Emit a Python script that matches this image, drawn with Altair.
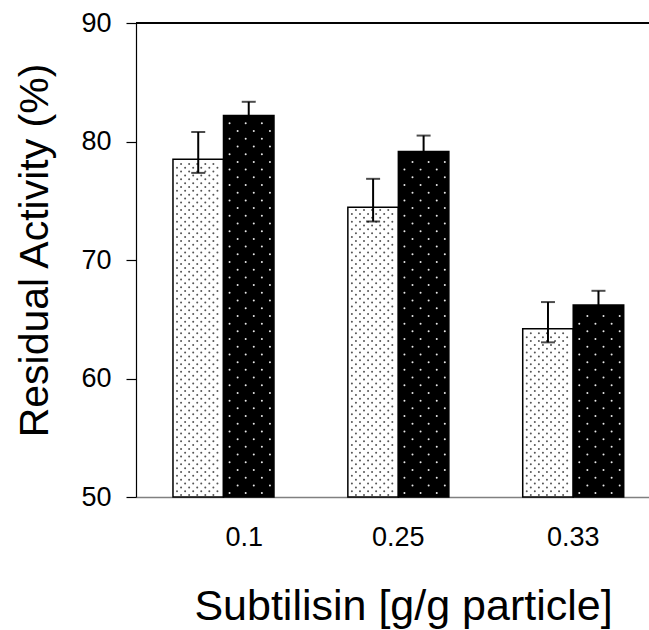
import altair as alt
import pandas as pd

# ---- data ----
categories = ["0.1", "0.25", "0.33"]
series = ["Series 1", "Series 2"]
light_values = [78.5, 74.45, 64.2]
dark_values = [82.2, 79.15, 66.2]
light_err_up = [2.3, 2.4, 2.25]
light_err_down = [1.15, 1.2, 1.15]
dark_err_up = [1.15, 1.35, 1.2]
dark_err_down = [1.15, 1.35, 1.2]
y_ticks = [50, 60, 70, 80, 90]
y_min, y_max = 50, 90

rows = []
for i, c in enumerate(categories):
    rows.append(dict(cat=c, series=series[0], value=light_values[i],
                     lo=light_values[i] - light_err_down[i],
                     hi=light_values[i] + light_err_up[i]))
    rows.append(dict(cat=c, series=series[1], value=dark_values[i],
                     lo=dark_values[i] - dark_err_down[i],
                     hi=dark_values[i] + dark_err_up[i]))
df = pd.DataFrame(rows)

# ---- decorative dot texture (pattern fill) derived from the bar values ----
n_sub = 26
light_dots, dark_dots = [], []
for i, c in enumerate(categories):
    k = 0
    yv = y_min + 0.16
    while yv < light_values[i] - 0.16:
        for p in range(1, 12):
            if (p + k) % 2 == 0:
                light_dots.append(dict(cat=c, pos=p, yy=yv))
        k += 1
        yv = y_min + 0.16 + k * 0.325
    k = 0
    yv = y_min + 0.33
    while yv < dark_values[i] - 0.3:
        for p in range(14, 25):
            if ((p - 13) + 2 * k) % 4 == 1:
                dark_dots.append(dict(cat=c, pos=p, yy=yv))
        k += 1
        yv = y_min + 0.33 + k * 0.65
ld = pd.DataFrame(light_dots)
dd = pd.DataFrame(dark_dots)

FONT = "Liberation Sans"
Y_TITLE = "Residual Activity (%)"
X_TITLE = "Subtilisin [g/g particle]"

x_axis = alt.Axis(
    labelAlign={"condition": {"test": "datum.value == '0.1'", "value": "left"}, "value": "center"},
    labelOffset={"condition": {"test": "datum.value == '0.1'", "value": 2}, "value": 0},
)
x_enc = alt.X("cat:N", title=X_TITLE,
              scale=alt.Scale(domain=categories, paddingInner=0.4224,
                              paddingOuter=0.178, align=0.594),
              axis=x_axis)
y_scale = alt.Scale(domain=[y_min, y_max], nice=False, zero=False)
y_axis = alt.Axis(values=y_ticks, title=Y_TITLE)
xoff_series = alt.XOffset("series:N", scale=alt.Scale(domain=series, paddingInner=0, paddingOuter=0))
xoff_sub = alt.XOffset("pos:O", scale=alt.Scale(domain=list(range(n_sub)), paddingInner=0, paddingOuter=0))

base = alt.Chart(df)

bars = base.mark_bar(stroke="black", strokeWidth=1.5).encode(
    x=x_enc,
    xOffset=xoff_series,
    y=alt.Y("value:Q", scale=y_scale, axis=y_axis, title=Y_TITLE),
    y2=alt.datum(y_min),
    color=alt.Color("series:N", scale=alt.Scale(domain=series, range=["#ffffff", "#000000"]), legend=None),
)

dots_light = alt.Chart(ld).mark_circle(size=4, color="#555555", opacity=1).encode(
    x=x_enc, xOffset=xoff_sub,
    y=alt.Y("yy:Q", scale=y_scale, axis=y_axis, title=Y_TITLE),
)
dots_dark = alt.Chart(dd).mark_circle(size=4, color="#e8e8e8", opacity=1).encode(
    x=x_enc, xOffset=xoff_sub,
    y=alt.Y("yy:Q", scale=y_scale, axis=y_axis, title=Y_TITLE),
)

err = base.mark_rule(color="black", strokeWidth=2).encode(
    x=x_enc, xOffset=xoff_series,
    y=alt.Y("lo:Q", scale=y_scale, axis=y_axis, title=Y_TITLE),
    y2="hi:Q",
)
cap_hi = base.mark_tick(color="black", thickness=2, size=14).encode(
    x=x_enc, xOffset=xoff_series,
    y=alt.Y("hi:Q", scale=y_scale, axis=y_axis, title=Y_TITLE),
)
cap_lo = base.mark_tick(color="black", thickness=2, size=14).encode(
    x=x_enc, xOffset=xoff_series,
    y=alt.Y("lo:Q", scale=y_scale, axis=y_axis, title=Y_TITLE),
)

top_line = alt.Chart(df).mark_rule(color="black", strokeWidth=1.2).encode(
    y=alt.datum(y_max)
)

chart = alt.layer(bars, dots_light, dots_dark, err, cap_hi, cap_lo, top_line).resolve_scale(
    xOffset="independent"
).properties(
    width=513, height=474,
    autosize=alt.AutoSizeParams(type="none"),
    padding={"left": 136, "top": 23, "right": 0, "bottom": 133},
    background="white",
).configure_view(
    stroke=None
).configure_axisY(
    grid=False, domainColor="black", domainWidth=1.2, tickColor="black", tickSize=10, tickWidth=1.2,
    labelFont=FONT, labelFontSize=27, labelColor="black", labelPadding=15,
    titleFont=FONT, titleFontSize=41, titleFontWeight="normal", titleColor="black",
    titleX=-89, titleY=227, titleBaseline="alphabetic", titleAngle=270, titleAlign="center",
).configure_axisX(
    grid=False, domainColor="#808080", domainWidth=1.5, ticks=False,
    labelFont=FONT, labelFontSize=27, labelColor="black", labelPadding=27, labelAngle=0,
    titleFont=FONT, titleFontSize=43, titleFontWeight="normal", titleColor="black",
    titleX=267, titleY=122, titleBaseline="alphabetic", titleAlign="center", titleAnchor="start",
)

chart.save("out.html", embed_options={"renderer": "svg", "actions": False})
